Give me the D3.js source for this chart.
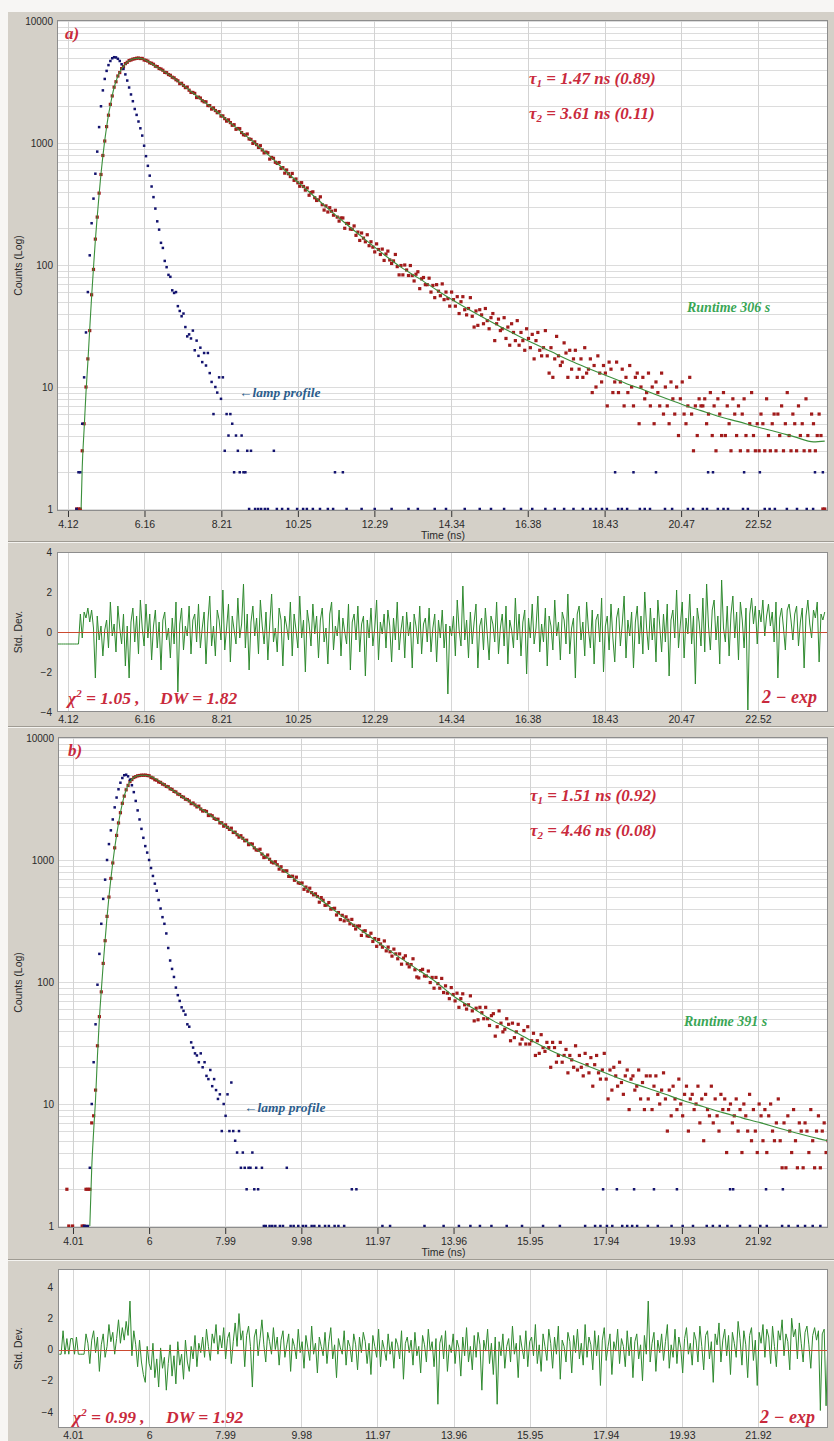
<!DOCTYPE html>
<html>
<head>
<meta charset="utf-8">
<script src="https://cdnjs.cloudflare.com/ajax/libs/d3/7.8.5/d3.min.js"></script>
<style>
  html, body { margin: 0; padding: 0; background: #ffffff; }
  svg { display: block; }
</style>
</head>
<body>
<svg id="chart" width="834" height="1441"></svg>
<script>
// ------------------------------------------------------------------
// TCSPC decay data (two samples, a and b), stored per channel
// ------------------------------------------------------------------
const CH = 0.05; // channel width of the stored histograms, ns

const ticksA = [4.12, 6.16, 8.21, 10.25, 12.29, 14.34, 16.38, 18.43, 20.47, 22.52];
const ticksB = [4.01, 6, 7.99, 9.98, 11.97, 13.96, 15.95, 17.94, 19.93, 21.92];
const countTicks = [1, 10, 100, 1000, 10000];
const residTicks = [4, 2, 0, -2, -4];

// ---- sample a ----
const decayStartA = 4.15;
const decayCountsA = [
  0,0,0,0,1,1,1,3,5,10,17,29,57,92,163,247,388,552,790,1038,1362,1690,2074,2431,2868,3178,3541,3779,4072,4231,4473,4588,4741,4792,4870,4905,4950,
  4970,4925,4935,4790,4760,4690,4540,4505,4420,4260,4230,4080,4040,3950,3790,3770,3640,3590,3460,3420,3300,
  3235,3067,3087,2963,2844,2871,2709,2598,2596,2550,2358,2377,2337,2221,2175,2176,2027,2025,1896,1940,
  1845,1771,1808,1662,1668,1584,1511,1548,1470,1397,1412,1295,1315,1310,1217,1168,1160,1185,1079,
  1070,993,1022,970,920,951,876,829,843,832,738,761,749,695,680,692,619,628,566,601,
  560,531,563,494,507,472,442,473,440,411,428,373,393,398,356,338,342,362,312,282,
  305,272,295,276,256,281,247,229,243,243,200,219,219,197,196,209,175,186,159,183,
  166,155,177,144,155,140,128,149,134,122,135,109,123,130,110,103,108,122,97,83,
  99,83,100,91,82,99,82,74,84,88,64,77,79,69,69,78,60,68,54,69,61,
  56,70,52,60,53,46,60,52,46,55,40,50,55,43,39,44,54,38,31,42,
  32,43,39,33,44,35,30,37,40,24,33,36,29,30,37,25,31,22,33,28,
  24,35,22,28,24,20,30,25,21,27,17,24,28,20,18,21,29,18,13,21,
  12,17,26,18,15,16,23,19,12,20,14,17,20,12,14,17,12,21,13,14,
  17,9,15,10,18,13,11,15,13,7,16,14,9,11,16,9,11,14,7,12,
  9,15,10,7,12,13,5,10,12,8,9,13,7,10,5,11,9,7,13,6,
  10,7,5,11,8,6,10,4,8,11,6,5,7,12,6,3,7,4,8,7,
  7,8,5,6,9,4,7,3,8,6,4,9,4,7,5,3,8,6,4,7,
  3,6,8,4,3,5,9,4,3,5,3,6,5,3,8,4,3,5,6,3,
  6,4,7,3,5,9,4,3,6,5,3,7,4,5,3,8,4,3,6,5,3,4,6,4,1,1
];
const lampStartA = 4.15;
const lampCountsA = [
  0,0,0,0,1,2,2,5,12,28,
  60,120,220,350,560,850,1350,2000,2700,3350,
  3900,4350,4700,4950,5050,5030,4900,4700,4420,4050,
  3650,3250,2850,2500,2200,1900,1700,1500,1320,1150,
  950,780,650,540,440,360,290,228,195,152,
  138,108,96,83,80,62,59,60,46,42,
  38,40,31,26,27,25,29,20,24,18,
  21,16,19,15,19,13,11,6,10,9,
  12,8,12,3,6,4,6,5,2,4,
  3,2,4,2,2,3,1,3
];
// sparse lamp channels after the pulse: [time ns, counts]
const lampTailA = [
  [9.11,1],[9.19,1],[9.27,1],[9.37,1],[9.45,1],[9.61,3],[9.69,1],[9.83,1],[9.99,1],[10.23,1],[10.39,1],[10.49,1],
  [10.65,1],[10.84,1],[11.05,1],[11.19,1],[11.24,2],[11.45,2],[11.55,1],[11.95,1],[12.3,1],[12.75,1],[13.2,1],
  [13.45,1],[13.9,1],[14.2,1],[14.7,1],[15.1,1],[15.4,1],[15.75,1],[16.2,1],[16.5,1],[16.85,1],[17.1,1],[17.35,1],
  [17.6,1],[17.85,1],[18.05,1],[18.2,1],[18.36,1],[18.49,1],[18.71,2],[18.79,1],[18.89,1],[19.03,1],[19.2,2],
  [19.37,1],[19.5,1],[19.64,1],[19.8,2],[20.04,1],[20.23,1],[20.65,1],[20.79,1],[21.05,1],[21.16,1],[21.19,2],
  [21.32,2],[21.45,1],[21.6,1],[21.72,1],[22.12,1],[22.15,2],[22.25,1],[22.57,2],[22.7,1],[22.83,1],[22.97,1],
  [23.29,1],[23.56,1],[23.82,1],[23.99,1],[24.04,2],[24.25,2]
];
// reconvolution fit: [time ns, counts]
const fitCurveA = [
  [4.47,1],[4.50,2.2],[4.55,4.5],[4.60,9],[4.65,16],[4.70,30],[4.75,55],[4.80,95],[4.85,160],[4.90,250],
  [4.95,380],[5.00,560],[5.05,780],[5.10,1050],[5.15,1350],[5.20,1700],[5.25,2050],[5.30,2450],[5.35,2850],
  [5.40,3200],[5.45,3520],[5.50,3800],[5.60,4250],[5.70,4600],[5.80,4820],[5.90,4930],[6.00,4960],[6.10,4900],
  [6.25,4680],[6.50,4170],[6.75,3740],[7.0,3310],[7.5,2500],[8.0,1900],[8.5,1420],[9.0,1060],[9.5,780],
  [10.0,560],[10.5,410],[11.0,300],[11.5,222],[12.0,166],[12.5,125],[13.0,96],[13.5,77],[14.0,61],[14.5,49],
  [15.0,40],[15.5,33],[16.0,27.5],[16.5,23],[17.0,19.5],[17.5,16.5],[18.0,14.2],[18.5,12.3],[19.0,10.7],
  [19.5,9.4],[20.0,8.2],[20.5,7.2],[21.0,6.4],[21.5,5.7],[22.0,5.2],[22.5,4.7],[23.0,4.3],[23.5,3.9],
  [24.0,3.55],[24.3,3.6]
];
const residStartA = 3.85;
const residualsA = [
  -0.6,-0.6,-0.6,-0.6,-0.6,-0.6,-0.6,-0.6,-0.6,-0.6,-0.6,-0.6,0.9,-0.3,1.0,0.7,1.2,0.5,1.1,0.2,
  -2.3,0.8,-0.4,0.3,-1.2,0.1,0.6,-0.8,1.5,-0.2,0.4,-1.0,1.3,0.2,-0.6,0.9,-1.7,0.3,-2.3,0.5,
  1.2,-0.5,0.8,-1.1,1.6,0.2,-0.7,1.4,-0.3,0.9,-1.4,0.3,1.1,-0.8,0.5,-1.9,0.6,1.0,-0.4,0.2,
  -1.3,0.7,-0.6,1.5,-3.0,0.4,1.2,-0.9,0.3,-0.2,1.3,-1.1,0.6,0.9,-0.5,1.4,-0.8,0.2,1.0,-1.6,
  0.5,1.8,-0.7,0.3,-1.2,1.1,0.6,-0.4,2.1,-0.9,0.2,1.4,-1.5,0.8,0.1,-0.6,1.7,-0.3,0.4,2.4,
  -0.8,0.9,-1.9,0.5,1.3,-0.2,0.7,-1.1,1.6,0.3,-0.6,1.0,-1.4,0.4,1.9,-0.5,0.2,-1.0,1.2,0.6,
  -1.7,0.8,0.3,-0.4,1.5,-1.2,0.9,0.1,-0.8,1.8,-0.3,0.6,-2.0,1.1,0.4,-0.7,1.4,-0.1,0.8,-1.3,
  0.6,1.2,-0.5,0.2,-1.6,0.9,1.5,-0.9,0.3,-0.2,1.1,-1.2,0.7,0.0,-0.6,1.4,-1.9,0.5,0.9,-0.4,
  1.3,-1.0,0.4,0.8,-2.2,0.6,-0.3,1.2,-0.7,0.2,1.6,-1.4,0.5,-0.1,0.9,-0.8,1.1,0.3,-1.5,0.7,
  -0.4,1.5,-0.9,0.1,0.8,-1.3,1.0,-0.2,0.5,-1.8,0.9,0.3,-0.6,1.3,-1.1,0.4,0.7,-0.5,1.2,-1.0,
  0.2,0.9,-1.5,0.6,-0.3,1.1,-0.8,0.4,-3.1,0.3,-0.2,0.8,-1.2,1.6,0.1,-0.7,2.3,-0.4,0.6,-1.3,
  1.0,-0.6,0.5,1.4,-1.8,0.3,0.7,-0.9,1.2,-0.1,-1.4,0.8,0.4,-0.5,1.5,-1.1,0.2,0.9,-0.7,1.3,
  -1.6,0.6,0.1,-0.8,1.7,-0.4,0.9,-1.2,0.5,1.1,-2.1,0.7,-0.3,1.4,-0.6,0.2,1.8,-1.0,0.4,-0.5,
  1.2,-1.7,0.8,0.3,-0.9,1.6,-0.2,0.5,-1.4,1.0,0.6,-0.6,1.9,-1.1,0.2,0.7,-2.3,0.9,1.3,-0.4,
  0.5,-1.2,1.5,0.1,-0.8,1.1,-1.6,0.6,0.9,-0.5,1.7,-2.0,0.3,0.8,-0.9,1.4,-0.3,-1.5,0.7,1.2,
  -0.7,0.4,1.8,-1.3,0.6,-0.2,1.0,-1.8,0.5,1.3,-0.6,0.8,-1.1,2.0,0.2,-0.9,1.2,-0.4,0.7,-1.5,
  1.6,0.3,-1.0,0.9,-0.5,1.4,-2.2,0.6,1.1,-0.3,2.1,-0.8,0.4,1.5,-1.3,0.7,-0.1,1.9,-0.6,0.8,
  -2.6,1.2,0.5,-0.7,1.7,-1.0,2.4,0.3,-0.9,1.1,1.6,-0.4,0.8,-1.6,2.6,0.2,-0.5,1.3,-1.2,0.9,
  1.8,-0.3,1.0,-1.4,1.5,0.6,-0.8,1.2,-3.9,0.9,1.7,0.4,1.3,-0.6,1.1,0.5,1.6,-0.2,0.8,1.4,
  0.3,1.0,-0.5,1.5,-2.3,0.7,1.2,0.2,-0.9,1.1,1.4,0.6,-0.4,0.9,1.3,-0.7,0.5,1.2,-1.8,0.8,
  1.6,0.4,-0.3,1.1,0.7,1.5,-1.5,0.9,0.6,1.0
];

// ---- sample b ----
const decayStartB = 3.65;
const decayCountsB = [
  0,0,0,0,2,1,0,1,0,0,0,0,1,1,2,2,
  2,7,8,13,30,52,83,142,218,345,497,706,946,1258,1590,2012,2441,2915,3338,3762,4089,4391,4566,4744,4821,4899,4925,4958,4951,4966,4928,
  4905,4760,4702,4551,4512,4360,4325,4190,4140,4010,3985,3830,3790,3650,3612,3470,3440,3310,3275,3150,3128,
  3045,2898,2931,2826,2724,2764,2618,2521,2533,2499,2315,2339,2304,2194,2153,2159,2015,2018,1893,1940,
  1851,1782,1823,1681,1691,1610,1540,1582,1507,1437,1453,1336,1356,1351,1257,1208,1202,1225,1118,1047,
  1056,1098,1014,961,946,968,915,842,880,813,813,815,734,733,736,682,723,649,643,648,
  575,600,555,587,540,518,528,502,451,492,468,425,428,448,396,399,402,354,371,325,
  352,317,342,321,300,326,291,272,287,288,241,261,263,239,237,251,215,227,196,223,
  205,193,217,180,193,177,163,186,170,155,170,140,157,164,141,133,139,155,126,110,
  108,124,127,112,112,123,99,109,89,109,97,89,107,82,93,81,73,90,79,70,
  81,62,73,80,65,60,65,77,58,48,61,49,62,56,50,62,50,44,53,55,
  36,43,58,46,39,41,50,45,33,46,35,39,45,31,34,40,31,43,31,33,
  38,25,33,26,37,29,27,32,29,20,32,29,22,25,32,22,25,28,18,25,
  23,20,30,19,25,20,17,26,21,18,24,14,21,25,18,16,19,26,16,11,
  19,13,20,17,14,22,15,12,17,19,9,16,17,13,14,19,11,15,9,17,
  11,17,9,14,17,12,10,13,18,11,6,13,8,14,11,9,16,10,8,12,
  14,6,11,12,9,10,14,7,11,5,12,9,8,14,7,11,8,6,12,9,
  11,4,9,10,7,8,11,6,9,4,10,8,6,12,5,9,6,4,10,8,
  5,9,4,8,10,6,5,7,11,5,3,7,3,8,6,4,9,5,3,7,
  6,3,7,6,4,9,5,3,6,8,3,6,7,4,5
];
const lampStartB = 3.65;
const lampCountsB = [
  0,0,0,0,0,0,0,0,0,0,
  0,0,0,1,1,1,3,10,22,45,
  95,170,300,480,690,1000,1350,1750,2150,2700,
  3250,3800,4300,4700,4950,5000,4850,4550,4100,3600,
  3050,2550,2150,1800,1520,1300,1150,1000,860,740,
  640,560,470,400,340,300,250,190,150,128,
  110,90,78,70,62,58,54,45,43,32,
  29,26,25,22,26,20,22,17,16,19,
  14,16,13,11,12,6,10,8,12,6,
  15,6,5,4,6,3,4,3,2,3,
  3,4,2,3,2,0,3,1
];
const lampTailB = [
  [9.05,1],[9.15,1],[9.22,1],[9.3,1],[9.42,1],[9.5,1],[9.6,3],[9.7,1],[9.78,1],[9.9,1],[10.02,1],[10.1,1],
  [10.25,1],[10.32,1],[10.45,1],[10.6,1],[10.7,1],[10.85,1],[10.95,1],[11.1,1],[11.3,2],[11.42,2],[12.1,1],
  [12.3,1],[13.2,1],[13.7,1],[14.1,1],[14.4,1],[14.65,1],[14.95,1],[15.35,1],[15.75,1],[16.3,1],[16.74,1],
  [17.4,1],[17.66,1],[17.8,1],[17.87,2],[17.97,1],[18.11,1],[18.23,2],[18.37,1],[18.5,1],[18.63,1],[18.68,2],
  [18.76,1],[19.04,1],[19.2,2],[19.3,1],[19.66,1],[19.8,2],[19.95,1],[20.22,1],[20.58,1],[20.74,1],[20.92,1],
  [21.12,1],[21.19,2],[21.27,2],[21.45,1],[21.71,1],[21.98,1],[22.13,2],[22.15,1],[22.55,1],[22.57,2],
  [22.72,1],[22.96,1],[23.15,1],[23.35,1],[23.55,1]
];
const fitCurveB = [
  [4.45,1],[4.50,3],[4.55,6],[4.60,11],[4.65,25],[4.70,50],[4.75,85],[4.80,140],[4.85,220],[4.90,340],
  [4.95,500],[5.00,700],[5.05,950],[5.10,1250],[5.15,1600],[5.20,2000],[5.25,2450],[5.30,2900],[5.35,3350],
  [5.40,3750],[5.45,4100],[5.50,4380],[5.60,4740],[5.70,4900],[5.80,4950],[5.90,4950],[6.00,4880],
  [6.5,3950],[7.0,3100],[7.5,2450],[8.0,1900],[8.5,1460],[9.0,1100],[9.5,830],[10.0,625],[10.5,470],
  [11.0,355],[11.5,272],[12.0,210],[12.5,163],[13.0,128],[13.5,100],[14.0,75],[14.5,60],[15.0,48],
  [15.5,40],[16.0,33],[16.5,27.5],[17.0,23.5],[17.5,20.3],[18.0,17.6],[18.5,15.3],[19.0,13.6],[19.5,12],
  [20.0,10.6],[20.5,9.5],[21.0,8.5],[21.5,7.7],[22.0,7.0],[22.5,6.3],[23.0,5.7],[23.5,5.2],[23.75,5.0]
];
const residStartB = 3.65;
const residualsB = [
  -0.3,-0.3,1.2,-0.3,0.7,-0.3,0.7,0.7,-0.3,0.8,-0.3,-0.3,-0.3,-0.3,1.0,
  0.4,-0.9,0.6,1.2,-0.2,0.8,-1.4,0.3,1.0,-0.5,0.2,1.6,0.5,1.1,-0.3,0.7,1.9,0.4,1.4,0.6,
  1.8,0.9,3.1,-0.4,1.2,0.3,-1.1,0.6,-0.8,-1.6,-2.1,0.2,-0.9,-1.3,0.4,-1.8,-0.6,-2.4,0.1,-1.2,
  -0.5,-2.6,-0.9,0.3,-1.7,-0.4,-2.2,0.5,-1.0,-0.3,-1.9,0.6,-0.8,-1.4,0.2,-0.6,0.9,-1.1,0.4,-0.2,
  0.8,-0.5,1.3,0.2,-0.7,1.0,0.4,1.6,-0.3,0.9,0.1,1.4,-0.6,0.7,1.1,-0.9,0.5,1.7,0.2,2.3,
  0.6,1.2,-1.1,0.9,1.5,0.2,-2.4,0.8,1.3,-0.4,0.7,1.9,0.3,-0.8,1.1,0.5,-0.3,1.4,0.0,0.8,
  -1.0,0.6,1.2,-0.5,0.3,1.0,-1.4,0.7,0.2,-0.6,1.3,-0.2,0.5,-1.2,0.9,0.1,-0.7,1.5,-0.3,0.4,
  -1.5,0.8,0.2,-0.4,1.1,-0.9,0.5,1.4,-0.6,0.3,-1.8,0.7,0.1,-0.3,1.2,-1.0,0.6,0.2,-0.8,1.0,
  0.3,-1.3,0.8,-0.2,1.1,0.5,-0.9,0.4,-1.6,0.9,0.2,-0.5,1.3,-1.1,0.6,0.0,-0.7,1.0,-0.3,0.5,
  -1.2,0.7,0.3,-0.6,1.2,-1.9,0.4,0.8,-0.2,0.6,-1.0,1.1,-0.4,0.2,-1.5,0.9,0.3,-0.8,1.3,-0.1,
  0.5,-1.1,0.7,-3.5,0.4,0.9,-0.6,1.2,-1.4,0.3,-0.2,1.0,-0.9,0.6,0.1,-1.7,0.8,-0.4,1.4,-0.8,
  0.2,-1.3,0.9,-0.5,1.1,0.3,-2.6,0.6,-0.1,1.3,-0.9,0.4,-1.6,0.8,-3.5,0.5,-0.4,1.0,-1.2,0.2,
  0.7,-0.8,1.5,-0.3,0.4,-1.8,0.9,0.1,-0.6,1.2,-1.1,0.5,0.8,-0.4,1.6,-0.9,0.3,-1.4,1.0,0.2,
  -0.7,1.3,0.4,-1.2,0.8,-0.3,1.5,-1.9,0.6,0.2,-0.8,1.1,0.5,-1.5,0.9,-0.2,1.3,-0.6,0.4,-1.0,
  1.6,-0.5,0.8,0.3,-1.3,1.2,-0.4,0.9,-2.3,0.6,1.4,-0.7,0.2,1.0,-1.6,0.5,-0.1,1.3,-0.9,0.7,
  0.2,-1.1,1.2,-0.4,0.8,-1.8,0.5,1.0,-0.6,0.3,-2.0,0.9,-0.3,3.1,-0.8,0.4,1.1,-1.4,0.6,-0.2,
  1.0,-0.7,0.5,1.6,-1.2,0.3,-0.5,1.3,-0.9,0.8,0.1,-1.5,0.7,1.4,-0.3,0.4,-1.0,1.1,0.6,-0.8,
  1.5,0.2,-1.3,0.9,1.2,-0.6,0.5,-2.1,1.0,0.3,1.7,-0.8,0.6,1.3,-0.4,0.9,-1.6,1.1,0.4,-0.5,
  1.8,0.7,-1.0,1.2,0.3,-1.8,0.9,1.4,-0.7,0.6,-2.3,1.1,0.4,1.6,-0.5,1.3,0.8,-0.9,1.5,0.2,
  -1.1,1.2,0.6,1.9,-0.4,1.0,0.5,-1.3,2.0,0.8,1.3,-0.6,1.7,0.4,-0.8,1.1,1.5,0.3,-1.2,0.9,
  1.4,0.6,1.2,-3.9,1.0,1.3,-3.6,0.8
];

// fitted parameters shown on the plots
const paramsA = { tau1: "1.47", a1: "0.89", tau2: "3.61", a2: "0.11", chi2: "1.05", dw: "1.82", runtime: 306 };
const paramsB = { tau1: "1.51", a1: "0.92", tau2: "4.46", a2: "0.08", chi2: "0.99", dw: "1.92", runtime: 391 };

// ------------------------------------------------------------------
// drawing
// ------------------------------------------------------------------
const W = 834, H = 1441;
const svg = d3.select("#chart");
const UI_FONT = "'Liberation Sans', Arial, sans-serif";
const SERIF = "'Liberation Serif', 'Times New Roman', serif";
const RED_TXT = "#c92a3c";
const GRID = "#dcdcdc";

svg.append("rect").attr("width", W).attr("height", H).attr("fill", "#f7f6f4");
svg.append("rect").attr("x", 8).attr("y", 12).attr("width", W - 8).attr("height", H - 12).attr("fill", "#d4d0c8");

// etched separators between the panels
[541, 726, 1259].forEach(yy => {
  svg.append("line").attr("x1", 8).attr("x2", W).attr("y1", yy + 0.5).attr("y2", yy + 0.5).attr("stroke", "#9f9b93");
  svg.append("line").attr("x1", 8).attr("x2", W).attr("y1", yy + 1.5).attr("y2", yy + 1.5).attr("stroke", "#f4f3f0");
});

const panels = [
  {
    id: "a", ticks: ticksA, xDomain: [3.827, 24.387], left: 57, right: 828,
    decay: { top: 20, bottom: 511, y1: 509, y4: 21 },
    resid: { top: 552, bottom: 712, domain: [-4, 4] },
    decayStart: decayStartA, decayCounts: decayCountsA,
    lampStart: lampStartA, lampCounts: lampCountsA, lampTail: lampTailA,
    fit: fitCurveA, residStart: residStartA, residuals: residualsA, params: paramsA,
    labelPos: { tag: [65, 39], tau: [529, 84, 119], runtime: [687, 312], lamp: [239, 397], chi: [68, 160, 704], exp: [762, 703] }
  },
  {
    id: "b", ticks: ticksB, xDomain: [3.618, 23.75], left: 58, right: 828,
    decay: { top: 737, bottom: 1228, y1: 1226, y4: 738 },
    resid: { top: 1269, bottom: 1428, domain: [-5.02, 5.15] },
    decayStart: decayStartB, decayCounts: decayCountsB,
    lampStart: lampStartB, lampCounts: lampCountsB, lampTail: lampTailB,
    fit: fitCurveB, residStart: residStartB, residuals: residualsB, params: paramsB,
    labelPos: { tag: [68, 756], tau: [530, 801, 836], runtime: [684, 1026], lamp: [244, 1112], chi: [73, 166, 1423], exp: [760, 1423] }
  }
];

function styleAxisText(sel, size) {
  sel.selectAll("text")
    .attr("font-family", UI_FONT)
    .attr("font-size", size)
    .attr("fill", "#2a2a2a");
}

function drawPanel(p) {
  const x = d3.scaleLinear().domain(p.xDomain).range([p.left, p.right]);
  const y = d3.scaleLog().domain([1, 10000]).range([p.decay.y1, p.decay.y4]);
  const yr = d3.scaleLinear().domain(p.resid.domain).range([p.resid.bottom, p.resid.top]);
  const pw = p.right - p.left;

  // ---------------- decay plot ----------------
  const g = svg.append("g");
  g.append("rect").attr("x", p.left).attr("y", p.decay.top).attr("width", pw)
    .attr("height", p.decay.bottom - p.decay.top).attr("fill", "#ffffff");

  const clipId = "clip-decay-" + p.id;
  svg.append("clipPath").attr("id", clipId).append("rect")
    .attr("x", p.left).attr("y", p.decay.top).attr("width", pw)
    .attr("height", p.decay.bottom - p.decay.top);

  // log grid
  const gridVals = [];
  [1, 10, 100, 1000].forEach(d => { for (let k = 1; k <= 9; k++) gridVals.push(d * k); });
  gridVals.push(10000);
  g.append("g").selectAll("line").data(gridVals).join("line")
    .attr("x1", p.left).attr("x2", p.right)
    .attr("y1", d => Math.round(y(d)) + 0.5).attr("y2", d => Math.round(y(d)) + 0.5)
    .attr("stroke", GRID).attr("stroke-width", 1);
  g.append("g").selectAll("line").data(p.ticks).join("line")
    .attr("x1", d => Math.round(x(d)) + 0.5).attr("x2", d => Math.round(x(d)) + 0.5)
    .attr("y1", p.decay.top).attr("y2", p.decay.bottom)
    .attr("stroke", "#d3d3d3");

  const plot = g.append("g").attr("clip-path", `url(#${clipId})`);

  // measured decay (red)
  const decayPts = p.decayCounts.map((c, i) => [p.decayStart + i * CH, c]).filter(d => d[1] > 0);
  plot.append("g").selectAll("rect").data(decayPts).join("rect")
    .attr("x", d => x(d[0]) - 1.6).attr("y", d => y(d[1]) - 1.6)
    .attr("width", 3.2).attr("height", 3.2).attr("fill", "#a11b1b");

  // lamp profile (navy)
  const lampPts = p.lampCounts.map((c, i) => [p.lampStart + i * CH, c]).filter(d => d[1] > 0)
    .concat(p.lampTail);
  plot.append("g").selectAll("rect").data(lampPts).join("rect")
    .attr("x", d => x(d[0]) - 1.25).attr("y", d => y(d[1]) - 1.25)
    .attr("width", 2.5).attr("height", 2.5).attr("fill", "#12126e");

  // fitted curve (green)
  const fitLine = d3.line().x(d => x(d[0])).y(d => y(d[1])).curve(d3.curveMonotoneX);
  plot.append("path").datum(p.fit).attr("d", fitLine)
    .attr("fill", "none").attr("stroke", "#3b8f3b").attr("stroke-width", 1.1);

  // frame
  g.append("rect").attr("x", p.left + 0.5).attr("y", p.decay.top + 0.5).attr("width", pw - 1)
    .attr("height", p.decay.bottom - p.decay.top - 1).attr("fill", "none").attr("stroke", "#8d8d8d");

  // axes
  const xAx = g.append("g").attr("transform", `translate(0,${p.decay.bottom})`)
    .call(d3.axisBottom(x).tickValues(p.ticks).tickFormat(d => String(d)).tickSize(6).tickPadding(4));
  xAx.select(".domain").remove();
  xAx.selectAll("line").attr("stroke", "#333");
  styleAxisText(xAx, 10.5);

  const yAx = g.append("g").attr("transform", `translate(${p.left},0)`)
    .call(d3.axisLeft(y).tickValues(countTicks).tickFormat(d3.format("d")).tickSize(0).tickPadding(4));
  yAx.select(".domain").remove();
  styleAxisText(yAx, 10);

  g.append("text").attr("x", (p.left + p.right) / 2 + 0.5).attr("y", p.decay.bottom + 28)
    .attr("text-anchor", "middle").attr("font-family", UI_FONT).attr("font-size", 10.5)
    .attr("fill", "#2a2a2a").text("Time (ns)");
  g.append("text")
    .attr("transform", `translate(18,${(p.decay.top + p.decay.bottom) / 2}) rotate(-90)`)
    .attr("text-anchor", "middle").attr("dy", "0.35em").attr("font-family", UI_FONT).attr("font-size", 10.5)
    .attr("fill", "#2a2a2a").text("Counts (Log)");

  // ---------------- residual plot ----------------
  const r = svg.append("g");
  r.append("rect").attr("x", p.left).attr("y", p.resid.top).attr("width", pw)
    .attr("height", p.resid.bottom - p.resid.top).attr("fill", "#ffffff");
  const clipR = "clip-resid-" + p.id;
  svg.append("clipPath").attr("id", clipR).append("rect")
    .attr("x", p.left).attr("y", p.resid.top).attr("width", pw)
    .attr("height", p.resid.bottom - p.resid.top);

  r.append("g").selectAll("line").data(p.ticks).join("line")
    .attr("x1", d => Math.round(x(d)) + 0.5).attr("x2", d => Math.round(x(d)) + 0.5)
    .attr("y1", p.resid.top).attr("y2", p.resid.bottom)
    .attr("stroke", "#d6d6d6");

  const rPlot = r.append("g").attr("clip-path", `url(#${clipR})`);
  const resLine = d3.line().x((d, i) => x(p.residStart + i * CH)).y(d => yr(d));
  rPlot.append("path").datum(p.residuals).attr("d", resLine)
    .attr("fill", "none").attr("stroke", "#2f8a2f").attr("stroke-width", 1)
    .attr("stroke-linejoin", "miter");
  rPlot.append("line").attr("x1", p.left).attr("x2", p.right)
    .attr("y1", Math.round(yr(0)) + 0.5).attr("y2", Math.round(yr(0)) + 0.5)
    .attr("stroke", "#cc4a30").attr("stroke-width", 1);

  r.append("rect").attr("x", p.left + 0.5).attr("y", p.resid.top + 0.5).attr("width", pw - 1)
    .attr("height", p.resid.bottom - p.resid.top - 1).attr("fill", "none").attr("stroke", "#8d8d8d");

  const rxAx = r.append("g").attr("transform", `translate(0,${p.resid.bottom})`)
    .call(d3.axisBottom(x).tickValues(p.ticks).tickFormat(d => String(d)).tickSize(0).tickPadding(4));
  rxAx.select(".domain").remove();
  styleAxisText(rxAx, 10.5);

  const ryAx = r.append("g").attr("transform", `translate(${p.left},0)`)
    .call(d3.axisLeft(yr).tickValues(residTicks).tickFormat(d3.format("d")).tickSize(0).tickPadding(5));
  ryAx.select(".domain").remove();
  styleAxisText(ryAx, 10);

  r.append("text")
    .attr("transform", `translate(18,${(p.resid.top + p.resid.bottom) / 2}) rotate(-90)`)
    .attr("text-anchor", "middle").attr("dy", "0.35em").attr("font-family", UI_FONT).attr("font-size", 10.5)
    .attr("fill", "#2a2a2a").text("Std. Dev.");

  // ---------------- annotations ----------------
  const L = p.labelPos, P = p.params;
  const serifText = (sx, sy, size, color) => svg.append("text").attr("x", sx).attr("y", sy)
    .attr("font-family", SERIF).attr("font-style", "italic").attr("font-weight", "bold")
    .attr("font-size", size).attr("fill", color);

  serifText(L.tag[0], L.tag[1], 17, RED_TXT).text(p.id + ")");

  [[1, P.tau1, P.a1, L.tau[1]], [2, P.tau2, P.a2, L.tau[2]]].forEach(([n, tau, amp, ty]) => {
    const t = serifText(L.tau[0], ty, 17, RED_TXT);
    t.append("tspan").text("τ");
    t.append("tspan").attr("font-size", 11).attr("dy", 3).text(n);
    t.append("tspan").attr("dy", -3).text(` = ${tau} ns (${amp})`);
  });

  serifText(L.runtime[0], L.runtime[1], 14, "#3aa655").text(`Runtime ${P.runtime} s`);

  svg.append("text").attr("x", L.lamp[0]).attr("y", L.lamp[1])
    .attr("font-family", SERIF).attr("font-style", "italic").attr("font-weight", "bold")
    .attr("font-size", 13.5).attr("fill", "#2c5d8c").text("←lamp profile");

  const c = serifText(L.chi[0], L.chi[2], 17.5, RED_TXT);
  c.append("tspan").text("χ");
  c.append("tspan").attr("font-size", 11).attr("dy", -7).text("2");
  c.append("tspan").attr("dy", 7).text(` = ${P.chi2} ,`);
  serifText(L.chi[1], L.chi[2], 17.5, RED_TXT).text(`DW = ${P.dw}`);

  serifText(L.exp[0], L.exp[1], 18, RED_TXT).text("2 − exp");
}

panels.forEach(drawPanel);
</script>
</body>
</html>
